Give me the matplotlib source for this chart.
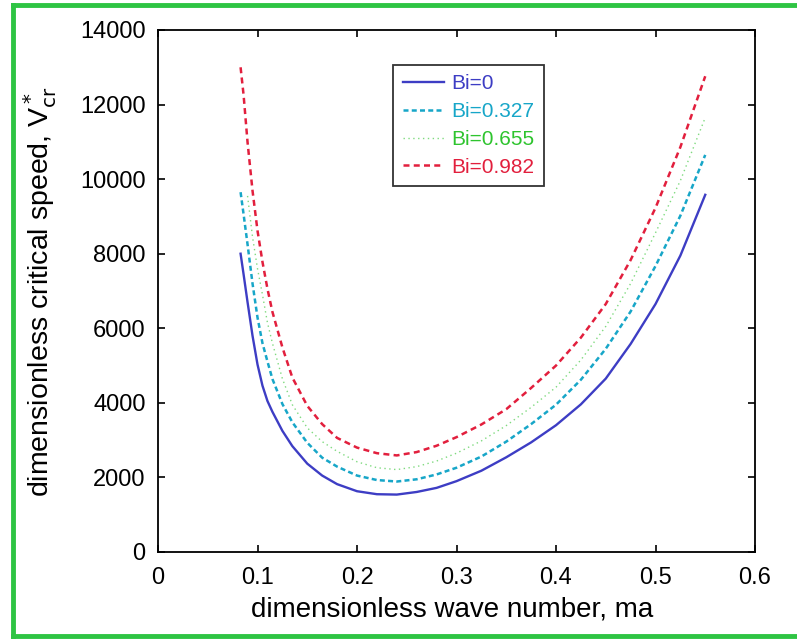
import numpy as np
import matplotlib.pyplot as plt
from matplotlib.lines import Line2D

plt.rcParams['font.family'] = ['Liberation Sans', 'DejaVu Sans']

# wave number grid and critical speeds
ma = [0.083, 0.086, 0.09, 0.095, 0.1, 0.105, 0.11, 0.115, 0.125, 0.135,
      0.15, 0.165, 0.18, 0.2, 0.22, 0.24, 0.26, 0.28, 0.3, 0.325,
      0.35, 0.375, 0.4, 0.425, 0.45, 0.475, 0.5, 0.525, 0.55]
v_bi0 = [8000, 7450, 6700, 5800, 5030, 4460, 4050, 3760, 3250, 2840,
         2370, 2050, 1820, 1630, 1550, 1540, 1610, 1720, 1900, 2180,
         2540, 2940, 3400, 3960, 4650, 5580, 6650, 7950, 9580]
v_bi327 = [9650, 9060, 8250, 7200, 6290, 5600, 5110, 4640, 3970, 3480,
           2930, 2530, 2290, 2050, 1930, 1890, 1950, 2080, 2260, 2560,
           2960, 3430, 3950, 4620, 5450, 6450, 7670, 9020, 10650]
v_bi982 = [13000, 12260, 10990, 9690, 8620, 7780, 7060, 6440, 5490, 4680,
           3920, 3430, 3060, 2800, 2650, 2590, 2680, 2850, 3080, 3420,
           3830, 4400, 5000, 5750, 6650, 7830, 9230, 10860, 12760]
# the dotted Bi=0.655 curve is only visible from ma ~ 0.09
ma_655 = ma[2:]
v_bi655 = [9550, 8450, 7600, 6900, 6150, 5600, 4650, 3950,
           3330, 2960, 2700, 2420, 2260, 2210, 2290, 2440, 2650, 2980,
           3390, 3880, 4420, 5150, 6050, 7200, 8560, 9960, 11650]

labels = ['Bi=0', 'Bi=0.327', 'Bi=0.655', 'Bi=0.982']
colors = ['#3d3dc4', '#17a6c8', '#7fda7f', '#e21f3d']
text_colors = ['#3d3dc4', '#17a6c8', '#2ec42e', '#e21f3d']

fig = plt.figure(figsize=(7.97, 6.39), dpi=100)
ax = fig.add_axes([158 / 797, 1 - 552 / 639, 597 / 797, 522 / 639])

ax.plot(ma, v_bi0, color=colors[0], linestyle='-', linewidth=1.7, label=labels[0])
ax.plot(ma, v_bi327, color=colors[1], linestyle=(0, (2.0, 1.3)), linewidth=1.8, label=labels[1])
ax.plot(ma_655, v_bi655, color=colors[2], linestyle=(0, (1, 2.5)), linewidth=1.0, label=labels[2])
ax.plot(ma, v_bi982, color=colors[3], linestyle=(0, (2.4, 1.7)), linewidth=1.8, label=labels[3])

ax.set_xlim(0, 0.6)
ax.set_ylim(0, 14000)
ax.set_xticks(np.arange(0, 0.61, 0.1))
ax.set_xticklabels(['0', '0.1', '0.2', '0.3', '0.4', '0.5', '0.6'])
ax.set_yticks(np.arange(0, 14001, 2000))
ax.tick_params(direction='in', top=True, right=True, labelsize=17, length=5, width=1.2)
ax.tick_params(axis='x', pad=11)
ax.tick_params(axis='y', pad=9)
for s in ax.spines.values():
    s.set_linewidth(1.3)

ax.set_xlabel('dimensionless wave number, ma', fontsize=20, va='top')
ax.xaxis.set_label_coords(0.493, -0.085)
ax.set_ylabel(r'dimensionless critical speed, V$^*_{\rm cr}$', fontsize=20.5)
ax.yaxis.set_label_coords(-0.165, 0.5)

leg = ax.legend(loc='upper left', bbox_to_anchor=(0.394, 0.933), borderaxespad=0,
                fontsize=15, frameon=True, fancybox=False, edgecolor='black',
                handlelength=2.0, handletextpad=0.35, borderpad=0.45, labelspacing=0.42)
leg.get_frame().set_linewidth(1.3)
for t, c in zip(leg.get_texts(), text_colors):
    t.set_color(c)

# green frame around the figure
green = '#2ec443'
fx = 13 / 797
fy_top = 1 - 5 / 639
fy_bot = 1 - 636 / 639
fig.add_artist(Line2D([fx, fx], [fy_bot, fy_top], transform=fig.transFigure, color=green, linewidth=3.5))
fig.add_artist(Line2D([fx, 1], [fy_top, fy_top], transform=fig.transFigure, color=green, linewidth=3.5))
fig.add_artist(Line2D([fx, 1], [fy_bot, fy_bot], transform=fig.transFigure, color=green, linewidth=3.5))

fig.savefig('out.png', dpi=100)
